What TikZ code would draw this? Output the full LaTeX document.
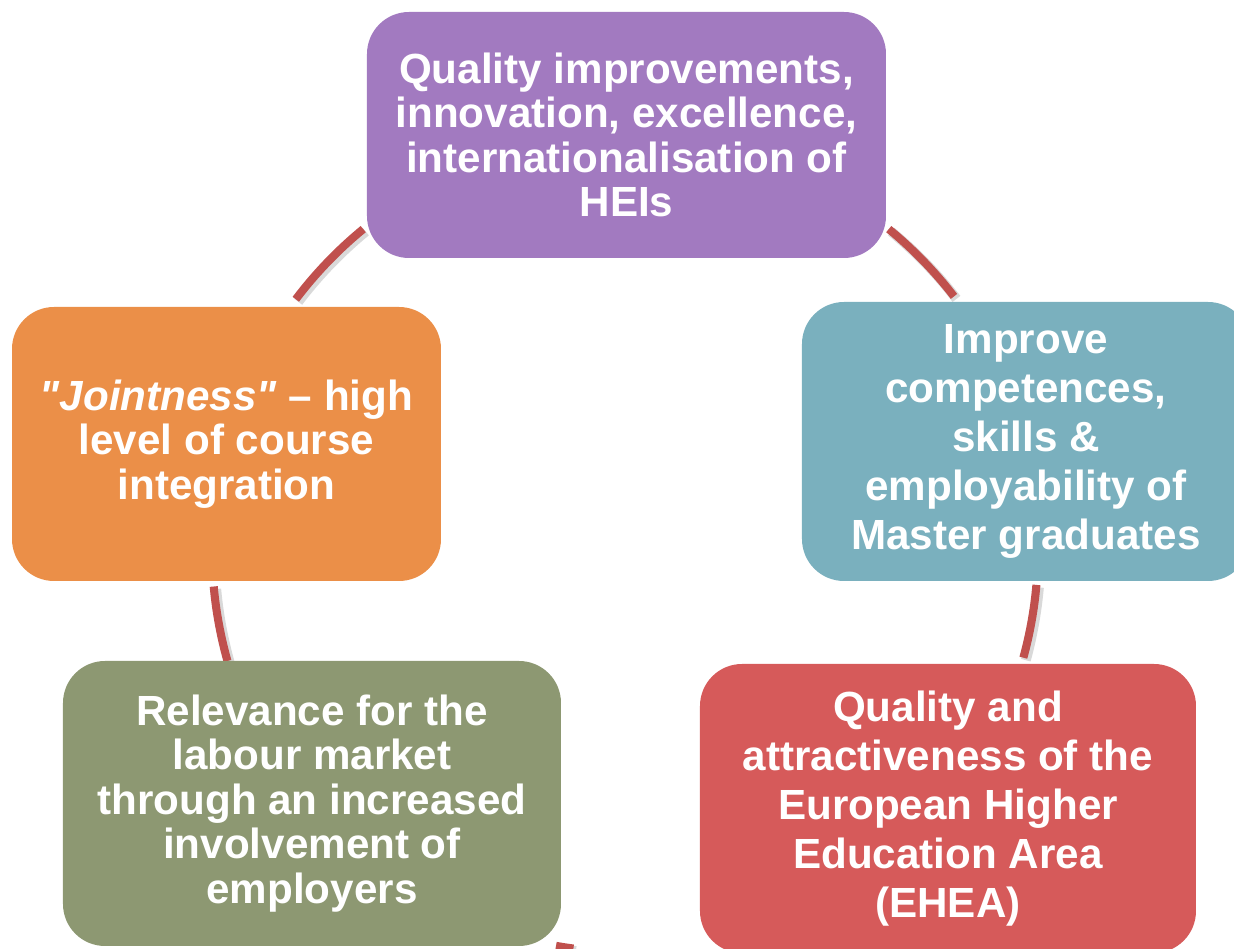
\documentclass[tikz,border=0pt]{standalone}
\usepackage{fontspec}
\setmainfont{Liberation Sans}[Ligatures=TeXOff]
\definecolor{boxpurple}{RGB}{162,122,192}
\definecolor{boxorange}{RGB}{235,143,72}
\definecolor{boxteal}{RGB}{122,176,190}
\definecolor{boxgreen}{RGB}{141,152,114}
\definecolor{boxred}{RGB}{214,90,90}
\definecolor{linkred}{RGB}{192,80,77}
\begin{document}
\begin{tikzpicture}[font=\bfseries\fontsize{12}{12.66}\selectfont]
\tikzset{Box/.style = {rounded corners=0.42cm, align=center, text=white, inner sep=0pt},
  Wide/.style = {font=\bfseries\fontsize{12}{13.9}\selectfont},
  Link/.style = {line width=2.3pt, draw=linkred},
  LinkShade/.style = {line width=2.8pt, draw=black, opacity=0.15}}
\useasboundingbox (0,0) rectangle (12.34,9.49);
\clip (0,0) rectangle (12.34,9.49);
\coordinate (c) at (6.26,4.00);
% links round the cycle
\foreach \a/\b/\r in {129.4/142.9/4.14, 37.6/50.6/4.14, -15.3/-5/4.12, 185.2/195.7/4.14, 260/262.5/4.03}{
  \draw[LinkShade] ([shift={(\a:\r)}]c) ++(0.025,-0.025) arc[start angle=\a, end angle=\b, radius=\r];
  \draw[Link] ([shift={(\a:\r)}]c) arc[start angle=\a, end angle=\b, radius=\r];
}
\node[Box, fill=boxpurple, minimum width=5.19cm, minimum height=2.46cm] (qual) at (6.265,8.14)
  {Quality improvements,\\innovation, excellence,\\internationalisation of\\HEIs};
\node[Box, fill=boxorange, minimum width=4.29cm, minimum height=2.74cm] (joint) at (2.265,5.05)
  {\textit{"Jointness"} – high\\level of course\\integration};
\node[Box, Wide, fill=boxteal, minimum width=4.48cm, minimum height=2.79cm] (comp) at (10.26,5.075)
  {Improve\\competences,\\skills \&\\employability of\\Master graduates};
\node[Box, fill=boxgreen, minimum width=4.98cm, minimum height=2.85cm] (rel) at (3.12,1.455)
  {Relevance for the\\labour market\\through an increased\\involvement of\\employers};
\node[Box, Wide, fill=boxred, minimum width=4.96cm, minimum height=2.89cm] (ehea) at (9.48,1.405)
  {Quality and\\attractiveness of the\\European Higher\\Education Area\\(EHEA)};
\end{tikzpicture}
\end{document}
